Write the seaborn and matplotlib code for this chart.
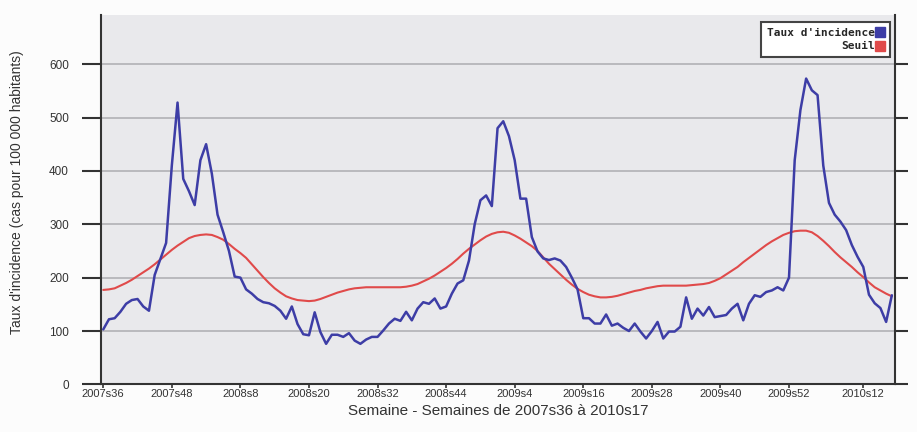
import pandas as pd
import seaborn as sns
import matplotlib.pyplot as plt
from matplotlib.lines import Line2D

sns.set_theme(style="white")
plt.rcParams['font.family'] = ['Liberation Sans', 'DejaVu Sans']

# weekly labels 2007s36 .. 2010s17 (2009 has 53 weeks)
weeks = ([f"2007s{w}" for w in range(36, 53)] + [f"2008s{w}" for w in range(1, 53)]
         + [f"2009s{w}" for w in range(1, 54)] + [f"2010s{w}" for w in range(1, 18)])

tick_labels = ["2007s36", "2007s48", "2008s8", "2008s20", "2008s32", "2008s44",
               "2009s4", "2009s16", "2009s28", "2009s40", "2009s52", "2010s12"]

# Taux d'incidence (cas pour 100 000 habitants)
incidence = [103, 122, 124, 136, 151, 158, 160, 146, 138, 205,
             235, 265, 410, 528, 385, 362, 336, 420, 450, 395,
             318, 285, 250, 202, 200, 178, 170, 160, 154, 152,
             147, 138, 123, 146, 113, 94, 92, 135, 98, 76,
             93, 93, 89, 96, 82, 76, 84, 89, 89, 101,
             114, 123, 119, 136, 120, 142, 154, 151, 161, 142,
             146, 170, 189, 195, 232, 300, 345, 354, 334, 480,
             493, 465, 420, 348, 348, 276, 249, 236, 233, 236,
             232, 220, 200, 178, 124, 124, 114, 114, 131, 110,
             114, 106, 100, 114, 99, 86, 100, 117, 86, 99,
             99, 108, 163, 123, 142, 129, 145, 126, 128, 130,
             142, 151, 120, 151, 167, 164, 173, 176, 182, 176,
             200, 420, 514, 573, 551, 542, 410, 340, 318, 305,
             289, 261, 239, 220, 168, 152, 143, 117, 167]

# Seuil
seuil = [177, 178, 180, 185, 190, 196, 203, 210, 217, 225,
         234, 243, 252, 260, 267, 274, 278, 280, 281, 280,
         276, 271, 263, 254, 246, 237, 225, 213, 201, 190,
         180, 172, 165, 161, 158, 157, 156, 157, 160, 164,
         168, 172, 175, 178, 180, 181, 182, 182, 182, 182,
         182, 182, 182, 183, 185, 188, 193, 198, 204, 211,
         218, 226, 235, 245, 254, 262, 270, 277, 282, 285,
         286, 284, 279, 273, 266, 259, 250, 238, 226, 216,
         206, 196, 187, 179, 173, 168, 165, 163, 163, 164,
         166, 169, 172, 175, 177, 180, 182, 184, 185, 185,
         185, 185, 185, 186, 187, 188, 190, 194, 199, 206,
         213, 220, 229, 237, 245, 253, 261, 268, 274, 280,
         284, 287, 288, 288, 285, 278, 269, 259, 248, 238,
         229, 220, 210, 201, 191, 182, 176, 170, 165]

df = pd.DataFrame({"pos": range(len(weeks)), "semaine": weeks,
                   "incidence": incidence, "seuil": seuil})

blue = "#3d3da6"
red = "#e04a4a"

fig = plt.figure(figsize=(9.17, 4.32), dpi=100, facecolor="#fcfcfc")
ax = fig.add_axes([0.1101, 0.1102, 0.8659, 0.855])
ax.set_facecolor("#e9e9ec")

sns.lineplot(data=df, x="pos", y="seuil", color=red, linewidth=1.5, ax=ax)
sns.lineplot(data=df, x="pos", y="incidence", color=blue, linewidth=1.8, ax=ax)

ax.set_xlim(-0.4, 138.55)
ax.set_ylim(0, 692)

ax.set_yticks(range(0, 700, 100))
ax.yaxis.grid(True, color="#b9b9bd", linewidth=1.4)
ax.xaxis.grid(False)
ax.set_axisbelow(True)

ax.set_xticks([weeks.index(t) for t in tick_labels])
ax.set_xticklabels(tick_labels, fontsize=8, color="#333333")

for s in ["left", "bottom", "right"]:
    ax.spines[s].set_color("#333333")
    ax.spines[s].set_linewidth(1.5)
ax.spines["top"].set_visible(False)

ax.tick_params(axis="y", which="major", left=True, right=True, direction="out",
               length=14, width=1.5, color="#333333", labelsize=8.5,
               labelcolor="#333333", pad=9)
ax.tick_params(axis="x", which="major", bottom=True, direction="out",
               length=3, width=1.2, color="#333333", pad=0.5)
for t in ax.yaxis.get_major_ticks():
    t.tick2line.set_markersize(9)

ax.set_xlabel("Semaine - Semaines de 2007s36 à 2010s17", fontsize=11, color="#333333")
ax.xaxis.set_label_coords(0.5, -0.052)
ax.set_ylabel("Taux d'incidence (cas pour 100 000 habitants)", fontsize=10, color="#333333")
ax.yaxis.set_label_coords(-0.097, 0.52)

handles = [Line2D([0], [0], marker="s", linestyle="none", markersize=7,
                  markerfacecolor=blue, markeredgecolor=blue),
           Line2D([0], [0], marker="s", linestyle="none", markersize=7,
                  markerfacecolor=red, markeredgecolor=red)]
leg = ax.legend(handles, ["Taux d'incidence", "Seuil"], loc="upper right",
                bbox_to_anchor=(0.994, 0.981), borderaxespad=0, markerfirst=False,
                frameon=True, fancybox=False, framealpha=1, facecolor="white",
                edgecolor="#444444", handletextpad=0.1, handlelength=0.8,
                labelspacing=0.35, borderpad=0.5,
                prop={"family": "DejaVu Sans Mono", "weight": "bold", "size": 8})
leg.get_frame().set_linewidth(1.5)

plt.savefig("out.png", dpi=100, facecolor=fig.get_facecolor())
